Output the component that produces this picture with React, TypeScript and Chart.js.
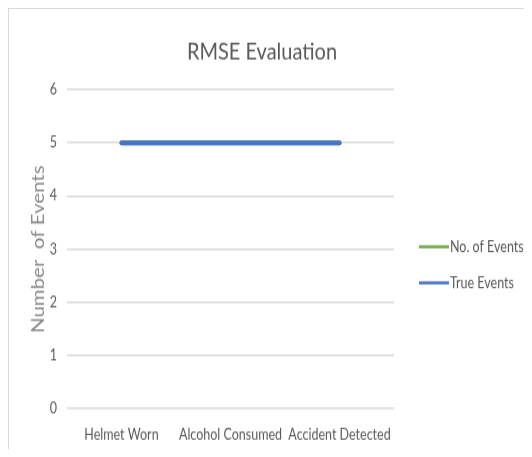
import React, { useEffect, useRef } from "react";
import { Chart, registerables } from "chart.js";

Chart.register(...registerables);

const categories = ["Helmet Worn", "Alcohol Consumed", "Accident Detected"];
const noOfEvents = [5, 5, 5];
const trueEvents = [5, 5, 5];
const yTicks = [0, 1, 2, 3, 4, 5, 6];

const FONT = 'Lato, "Open Sans", sans-serif';
const TEXT = "#595959";
const STRETCH = 1.2;

const legendPlugin = {
  id: "sideLegend",
  afterDraw(chart: any) {
    const { ctx, chartArea } = chart;
    const cy = (chartArea.top + chartArea.bottom) / 2 - 2;
    const x0 = chartArea.right + 25;
    ctx.save();
    chart.data.datasets.forEach((ds: any, i: number) => {
      const y = cy + i * 30;
      ctx.strokeStyle = ds.borderColor;
      ctx.lineWidth = 2.5;
      ctx.beginPath();
      ctx.moveTo(x0, y);
      ctx.lineTo(x0 + 30, y);
      ctx.stroke();
      ctx.fillStyle = TEXT;
      ctx.font = `12.5px ${FONT}`;
      ctx.textBaseline = "middle";
      ctx.textAlign = "left";
      ctx.fillText(ds.label, x0 + 31, y);
    });
    ctx.restore();
  },
};

export default function App() {
  const ref = useRef<HTMLCanvasElement>(null);
  useEffect(() => {
    if (!ref.current) return;
    const chart = new Chart(ref.current, {
      type: "line",
      data: {
        labels: categories,
        datasets: [
          {
            label: "No. of Events",
            data: noOfEvents,
            borderColor: "#70AD47",
            backgroundColor: "#70AD47",
            borderWidth: 4,
            pointRadius: 0,
            borderCapStyle: "round",
            order: 1,
          },
          {
            label: "True Events",
            data: trueEvents,
            borderColor: "#4472C4",
            backgroundColor: "#4472C4",
            borderWidth: 4,
            pointRadius: 0,
            borderCapStyle: "round",
            order: 0,
          },
        ],
      },
      options: {
        animation: false,
        responsive: true,
        maintainAspectRatio: false,
        layout: { padding: { top: 0, left: 0, right: 17, bottom: 0 } },
        plugins: {
          legend: { display: false },
          tooltip: { enabled: false },
          title: {
            display: true,
            text: "RMSE Evaluation",
            color: TEXT,
            font: { family: FONT, size: 20, weight: "normal" },
            padding: { top: 24, bottom: 19 },
          },
        },
        scales: {
          x: {
            type: "category",
            offset: true,
            grid: { display: false, drawTicks: false },
            border: { display: false },
            ticks: { color: TEXT, font: { family: FONT, size: 12.5 }, padding: 14.5, maxRotation: 0 },
            afterFit: (s: any) => {
              s.height = 34.5;
            },
          },
          y: {
            min: yTicks[0],
            max: yTicks[yTicks.length - 1],
            afterBuildTicks: (s: any) => {
              s.ticks = yTicks.map((v) => ({ value: v }));
            },
            grid: { color: "#d9d9d9", lineWidth: 1.5, drawTicks: false },
            border: { display: false },
            ticks: { color: TEXT, font: { family: FONT, size: 12.5 }, padding: 10 },
            title: {
              display: true,
              text: "Number  of Events",
              color: "#8a8a8a",
              font: { family: FONT, size: 17 },
              padding: { top: 19, bottom: 0 },
            },
            afterFit: (s: any) => {
              s.width = 58;
            },
          },
          yr: {
            position: "right",
            display: true,
            grid: { display: false, drawTicks: false },
            border: { display: false },
            ticks: { display: false },
            afterFit: (s: any) => {
              s.width = 121;
            },
          },
        },
      },
      plugins: [legendPlugin],
    } as any);
    return () => chart.destroy();
  }, []);
  return (
    <div
      style={{
        width: 523,
        height: 440,
        borderLeft: "1px solid #d9d9d9",
        borderTop: "1px solid #d9d9d9",
        background: "#fff",
        overflow: "hidden",
      }}
    >
      <div
        style={{
          width: 523,
          height: 440 / STRETCH,
          transform: `scaleY(${STRETCH})`,
          transformOrigin: "0 0",
          position: "relative",
        }}
      >
        <canvas ref={ref} />
      </div>
    </div>
  );
}
